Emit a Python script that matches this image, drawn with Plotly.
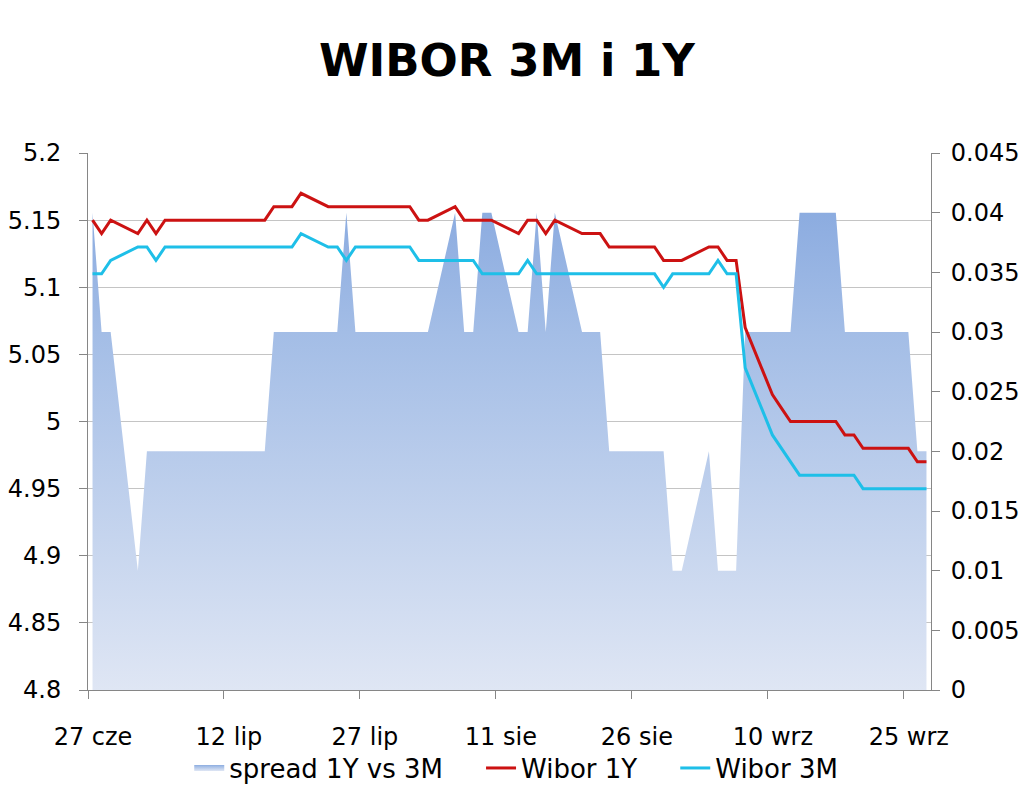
import pandas as pd
import plotly.graph_objects as go

# business days 27.06.2012 - 27.09.2012 (as published, incl. 15 Aug)
dates = [
    "2012-06-27", "2012-06-28", "2012-06-29",
    "2012-07-02", "2012-07-03", "2012-07-04", "2012-07-05", "2012-07-06",
    "2012-07-09", "2012-07-10", "2012-07-11", "2012-07-12", "2012-07-13",
    "2012-07-16", "2012-07-17", "2012-07-18", "2012-07-19", "2012-07-20",
    "2012-07-23", "2012-07-24", "2012-07-25", "2012-07-26", "2012-07-27",
    "2012-07-30", "2012-07-31", "2012-08-01", "2012-08-02", "2012-08-03",
    "2012-08-06", "2012-08-07", "2012-08-08", "2012-08-09", "2012-08-10",
    "2012-08-13", "2012-08-14", "2012-08-15", "2012-08-16", "2012-08-17",
    "2012-08-20", "2012-08-21", "2012-08-22", "2012-08-23", "2012-08-24",
    "2012-08-27", "2012-08-28", "2012-08-29", "2012-08-30", "2012-08-31",
    "2012-09-03", "2012-09-04", "2012-09-05", "2012-09-06", "2012-09-07",
    "2012-09-10", "2012-09-11", "2012-09-12", "2012-09-13", "2012-09-14",
    "2012-09-17", "2012-09-18", "2012-09-19", "2012-09-20", "2012-09-21",
    "2012-09-24", "2012-09-25", "2012-09-26", "2012-09-27",
]

wibor_1y = [
    5.15, 5.14, 5.15,
    5.14, 5.15, 5.14, 5.15, 5.15,
    5.15, 5.15, 5.15, 5.15, 5.15,
    5.15, 5.16, 5.16, 5.16, 5.17,
    5.16, 5.16, 5.16, 5.16, 5.16,
    5.16, 5.16, 5.16, 5.15, 5.15,
    5.16, 5.15, 5.15, 5.15, 5.15,
    5.14, 5.15, 5.15, 5.14, 5.15,
    5.14, 5.14, 5.14, 5.13, 5.13,
    5.13, 5.13, 5.12, 5.12, 5.12,
    5.13, 5.13, 5.12, 5.12, 5.07,
    5.02, 5.01, 5.00, 5.00, 5.00,
    5.00, 4.99, 4.99, 4.98, 4.98,
    4.98, 4.98, 4.97, 4.97,
]

wibor_3m = [
    5.11, 5.11, 5.12,
    5.13, 5.13, 5.12, 5.13, 5.13,
    5.13, 5.13, 5.13, 5.13, 5.13,
    5.13, 5.13, 5.13, 5.13, 5.14,
    5.13, 5.13, 5.12, 5.13, 5.13,
    5.13, 5.13, 5.13, 5.12, 5.12,
    5.12, 5.12, 5.12, 5.11, 5.11,
    5.11, 5.12, 5.11, 5.11, 5.11,
    5.11, 5.11, 5.11, 5.11, 5.11,
    5.11, 5.11, 5.10, 5.11, 5.11,
    5.11, 5.12, 5.11, 5.11, 5.04,
    4.99, 4.98, 4.97, 4.96, 4.96,
    4.96, 4.96, 4.96, 4.95, 4.95,
    4.95, 4.95, 4.95, 4.95,
]

spread = [
    0.04, 0.03, 0.03,
    0.01, 0.02, 0.02, 0.02, 0.02,
    0.02, 0.02, 0.02, 0.02, 0.02,
    0.02, 0.03, 0.03, 0.03, 0.03,
    0.03, 0.03, 0.04, 0.03, 0.03,
    0.03, 0.03, 0.03, 0.03, 0.03,
    0.04, 0.03, 0.03, 0.04, 0.04,
    0.03, 0.03, 0.04, 0.03, 0.04,
    0.03, 0.03, 0.03, 0.02, 0.02,
    0.02, 0.02, 0.02, 0.01, 0.01,
    0.02, 0.01, 0.01, 0.01, 0.03,
    0.03, 0.03, 0.03, 0.04, 0.04,
    0.04, 0.03, 0.03, 0.03, 0.03,
    0.03, 0.03, 0.02, 0.02,
]

tick_dates = ["2012-06-27", "2012-07-12", "2012-07-27", "2012-08-11",
              "2012-08-26", "2012-09-10", "2012-09-25"]
tick_text = ["27 cze", "12 lip", "27 lip", "11 sie", "26 sie", "10 wrz", "25 wrz"]

left_ticks = [4.8, 4.85, 4.9, 4.95, 5.0, 5.05, 5.1, 5.15, 5.2]
left_text = ["4.8", "4.85", "4.9", "4.95", "5", "5.05", "5.1", "5.15", "5.2"]
right_ticks = [0, 0.005, 0.01, 0.015, 0.02, 0.025, 0.03, 0.035, 0.04, 0.045]
right_text = ["0", "0.005", "0.01", "0.015", "0.02", "0.025", "0.03", "0.035", "0.04", "0.045"]

LEFT_RANGE = [4.8, 5.2]
RIGHT_RANGE = [0, 0.045]

x = pd.to_datetime(dates)
# excel puts the tick marks half a day before each date
tick_pos = pd.to_datetime(tick_dates) - pd.Timedelta(hours=12)

# horizontal grid belongs to the left axis, but has to sit under the area,
# so draw it as minor grid of the (bottom) right axis
grid_pos = [(v - LEFT_RANGE[0]) / (LEFT_RANGE[1] - LEFT_RANGE[0]) * RIGHT_RANGE[1]
            for v in left_ticks]

FONT = "DejaVu Sans"
AXIS = "#868686"
PAD = "\u00a0" * 4

fig = go.Figure()

fig.add_trace(go.Scatter(
    x=x, y=spread, name="spread 1Y vs 3M" + PAD, yaxis="y",
    mode="none", fill="tozeroy",
    fillgradient=dict(type="vertical",
                      colorscale=[[0, "#dfe6f4"], [0.75, "#a3bde6"], [1, "#8cace0"]]),
))
fig.add_trace(go.Scatter(
    x=x, y=wibor_1y, name="Wibor 1Y" + PAD, yaxis="y2",
    mode="lines", line=dict(color="#cc1212", width=3),
))
fig.add_trace(go.Scatter(
    x=x, y=wibor_3m, name="Wibor 3M", yaxis="y2",
    mode="lines", line=dict(color="#1ebfe8", width=3),
))

fig.update_layout(
    width=1024, height=791,
    margin=dict(l=88, r=93, t=153, b=101),
    paper_bgcolor="white", plot_bgcolor="white",
    font=dict(family=FONT, size=24, color="black"),
    title=dict(text="<b>WIBOR 3M i 1Y</b>", x=0.495, xanchor="center",
               y=0.924, yanchor="middle", font=dict(family=FONT, size=45, color="black")),
    showlegend=True,
    legend=dict(orientation="h", x=0.508, xanchor="center",
                yref="container", y=0.029, yanchor="middle",
                font=dict(size=26), itemwidth=30, tracegroupgap=0,
                bgcolor="rgba(0,0,0,0)"),
    xaxis=dict(
        type="date", automargin=False,
        range=[pd.Timestamp("2012-06-26 12:00"), pd.Timestamp("2012-09-27 12:00")],
        tickvals=tick_pos, ticktext=tick_text, ticklabelshift=5,
        ticks="outside", ticklen=8, tickcolor=AXIS,
        showline=True, linecolor=AXIS, linewidth=1,
        showgrid=False, zeroline=False, ticklabelstandoff=17,
    ),
    yaxis=dict(
        side="right", range=RIGHT_RANGE, automargin=False,
        tickvals=right_ticks, ticktext=right_text,
        ticks="outside", ticklen=8, tickcolor=AXIS,
        showline=True, linecolor=AXIS, linewidth=1,
        showgrid=False, zeroline=False, ticklabelstandoff=6,
        minor=dict(tickmode="array", tickvals=grid_pos, ticks="",
                   showgrid=True, gridcolor="#c4c4c4", gridwidth=1),
    ),
    yaxis2=dict(
        side="left", overlaying="y", range=LEFT_RANGE, automargin=False,
        tickvals=left_ticks, ticktext=left_text,
        ticks="outside", ticklen=8, tickcolor=AXIS,
        showline=True, linecolor=AXIS, linewidth=1,
        showgrid=False, zeroline=False, ticklabelstandoff=13,
    ),
)

# the page's default body margin would shift the fixed-size figure by 8px
fig.write_html("out.html", config={"displayModeBar": False},
               post_script="document.body.style.margin = '0';")
